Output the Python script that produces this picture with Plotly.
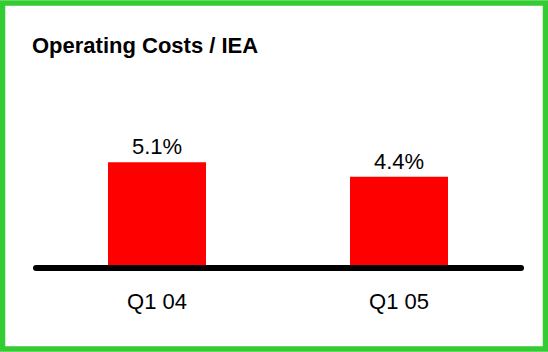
import plotly.graph_objects as go

# Operating costs as a share of interest-earning assets
quarters = ["Q1 04", "Q1 05"]
cost_ratio = [5.1, 4.4]
value_labels = ["5.1%", "4.4%"]

W, H = 548, 352
BASE_PX = 268          # baseline position from top, px
PX_PER_UNIT_Y = 20.75  # px per percentage point
X0_PX, DX_PX = 157, 242

x_pos = list(range(len(quarters)))

fig = go.Figure(
    go.Bar(
        x=x_pos,
        y=cost_ratio,
        width=0.405,
        marker=dict(color="#FF0000", line=dict(width=0)),
        text=value_labels,
        textposition="outside",
        textfont=dict(family="Liberation Sans, Arial, sans-serif", size=22, color="#000000"),
        cliponaxis=False,
        hoverinfo="skip",
    )
)

x_lo = -X0_PX / DX_PX
x_hi = (W - X0_PX) / DX_PX

# baseline geometry in paper fractions (whole figure, zero margins)
base_y = (H - BASE_PX) / H
line_l, line_r, line_w = 36, 521, 6
cap_r = line_w / 2


def cap(cx):
    return dict(
        type="circle", xref="paper", yref="paper",
        x0=(cx - cap_r) / W, x1=(cx + cap_r) / W,
        y0=base_y - cap_r / H, y1=base_y + cap_r / H,
        fillcolor="#000000", line=dict(width=0), layer="above",
    )


fig.update_layout(
    width=W,
    height=H,
    margin=dict(l=0, r=0, t=0, b=0),
    paper_bgcolor="white",
    plot_bgcolor="white",
    showlegend=False,
    xaxis=dict(
        range=[x_lo, x_hi],
        domain=[0, 1],
        tickvals=x_pos,
        ticktext=quarters,
        ticks="",
        showgrid=False,
        zeroline=False,
        showline=False,
        ticklabelstandoff=18,
        tickfont=dict(family="Liberation Sans, Arial, sans-serif", size=22, color="#000000"),
        fixedrange=True,
    ),
    yaxis=dict(
        range=[0, BASE_PX / PX_PER_UNIT_Y],
        domain=[base_y, 1],
        visible=False,
        fixedrange=True,
    ),
    shapes=[
        # baseline under the bars
        dict(
            type="line", xref="paper", yref="paper",
            x0=line_l / W, x1=line_r / W, y0=base_y, y1=base_y,
            line=dict(color="#000000", width=line_w),
            layer="above",
        ),
        cap(line_l),
        cap(line_r),
        # green frame
        dict(
            type="rect", xref="paper", yref="paper",
            x0=2.5 / W, x1=1 - 2.5 / W, y0=3 / H, y1=1 - 3 / H,
            line=dict(color="#33CC33", width=5.5),
            fillcolor="rgba(0,0,0,0)",
            layer="above",
        ),
    ],
    annotations=[
        dict(
            text="<b>Operating Costs / IEA</b>",
            xref="paper", yref="paper",
            x=30 / W, y=1 - 31 / H,
            xanchor="left", yanchor="top",
            showarrow=False,
            font=dict(family="Liberation Sans, Arial, sans-serif",
                      size=22, color="#000000"),
        )
    ],
)

fig.write_html("out.html")
